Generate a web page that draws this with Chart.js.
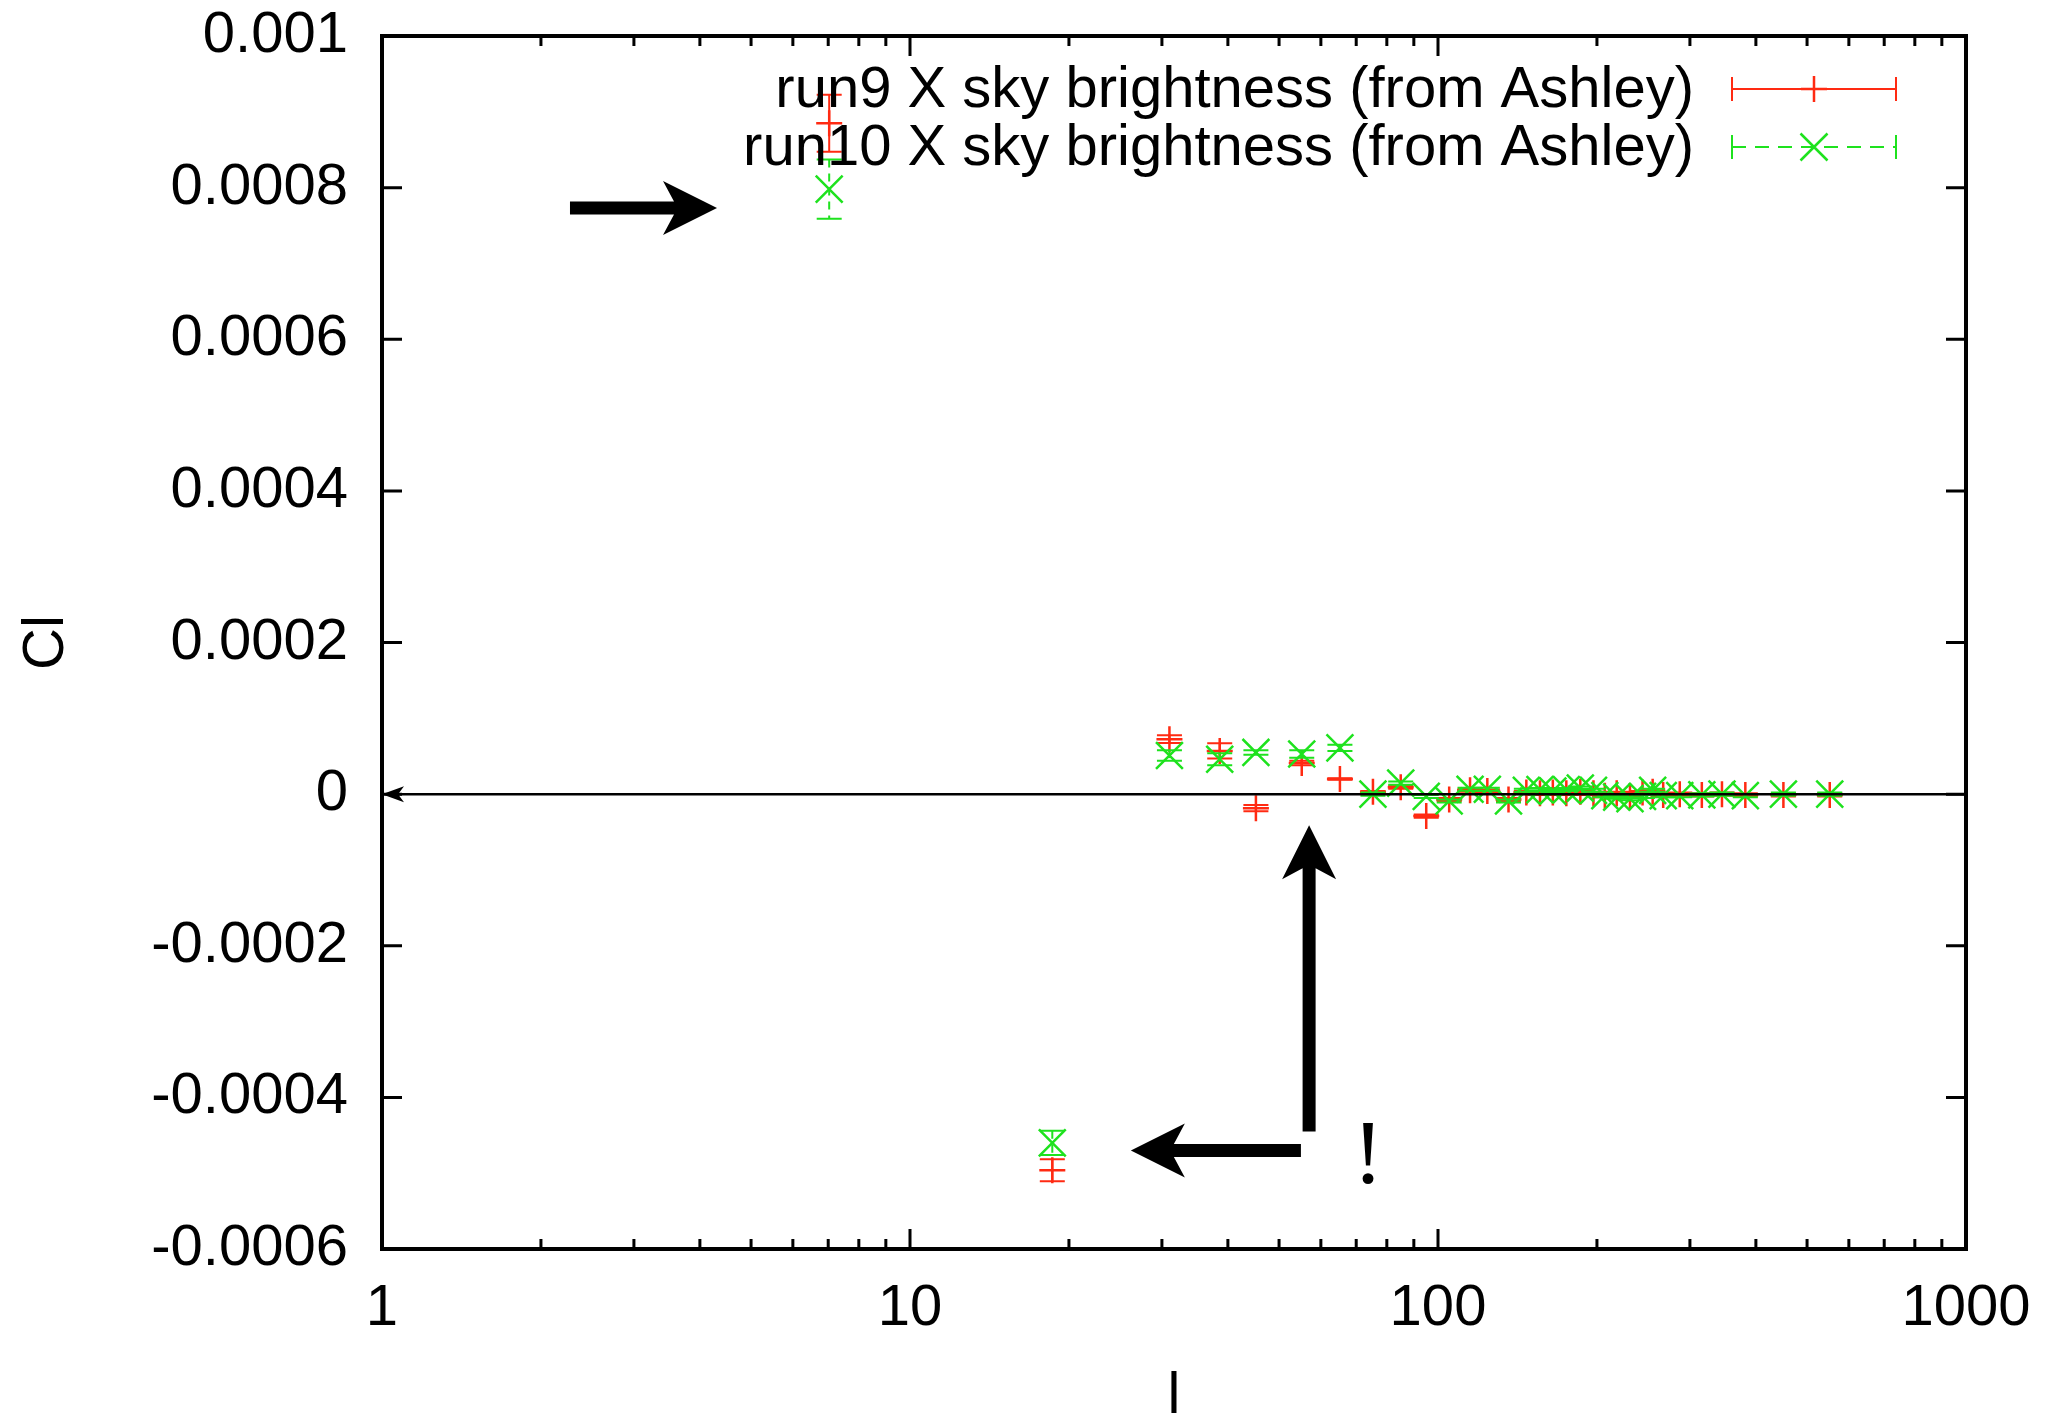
<!DOCTYPE html>
<html>
<head>
<meta charset="utf-8">
<title>Cl vs l</title>
<script src="https://cdn.jsdelivr.net/npm/chart.js@4.4.1/dist/chart.umd.min.js"></script>
<style>
  html, body { margin: 0; padding: 0; background: #fff; overflow: hidden; }
  #wrap { width: 2046px; height: 1413px; }
</style>
</head>
<body>
<div id="wrap"><canvas id="chart" width="2046" height="1413"></canvas></div>
<script>
// multipole bins (l) shared by both runs
const ell = [7.03, 18.6, 31, 38.6, 45.2, 55.2, 65.2, 75.3, 85, 95, 105, 115, 124, 136,
  147, 156, 165, 175, 186, 197, 207, 218, 231, 244, 255, 267, 287, 316, 345, 382, 451, 552];

const run9 = [8.85e-4, -4.96e-4, 7.25e-5, 5.7e-5, -1.85e-5, 4.1e-5, 2.0e-5, 0.3e-5, 0.9e-5, -2.9e-5,
  -0.7e-5, 0.5e-5, 0.4e-5, -0.7e-5, 0.2e-5, 0.1e-5, 0.2e-5, 0.1e-5, 0.3e-5, 0.1e-5,
  -0.2e-5, 0.1e-5, -0.3e-5, 0.2e-5, 0.3e-5, -0.1e-5, 0.0, -0.1e-5, 0.0, -0.1e-5, -0.1e-5, -0.1e-5];
const run9Err = [3.76e-5, 1.45e-5, 0.5e-5, 1.0e-5, 0.4e-5, 0.3e-5, 0.1e-5, 0.1e-5, 0.2e-5, 0.2e-5,
  0.2e-5, 0.2e-5, 0.2e-5, 0.2e-5, 0.2e-5, 0.2e-5, 0.2e-5, 0.2e-5, 0.2e-5, 0.2e-5,
  0.2e-5, 0.2e-5, 0.2e-5, 0.2e-5, 0.2e-5, 0.2e-5, 0.2e-5, 0.2e-5, 0.2e-5, 0.2e-5, 0.2e-5, 0.2e-5];

const run10 = [7.98e-4, -4.6e-4, 5.1e-5, 4.6e-5, 5.5e-5, 5.3e-5, 6.1e-5, 0.0, 1.45e-5, -0.3e-5,
  -0.9e-5, 0.65e-5, 0.65e-5, -0.9e-5, 0.5e-5, 0.6e-5, 0.4e-5, 0.6e-5, 0.8e-5, 0.5e-5,
  -0.2e-5, -0.4e-5, -0.6e-5, -0.3e-5, 0.5e-5, -0.2e-5, -0.2e-5, -0.1e-5, 0.0, -0.2e-5, 0.0, 0.0];
const run10Err = [3.9e-5, 1.6e-5, 0.7e-5, 0.8e-5, 0.3e-5, 0.5e-5, 0.4e-5, 0.2e-5, 0.2e-5, 0.2e-5,
  0.2e-5, 0.2e-5, 0.2e-5, 0.2e-5, 0.2e-5, 0.2e-5, 0.2e-5, 0.2e-5, 0.2e-5, 0.2e-5,
  0.2e-5, 0.2e-5, 0.2e-5, 0.2e-5, 0.2e-5, 0.2e-5, 0.2e-5, 0.2e-5, 0.2e-5, 0.2e-5, 0.2e-5, 0.2e-5];

const xTicks = [1, 10, 100, 1000];
const yTicks = [-0.0006, -0.0004, -0.0002, 0, 0.0002, 0.0004, 0.0006, 0.0008, 0.001];

// annotations, in data coordinates (like gnuplot "set arrow from ... to ...")
const arrows = [
  {from: [2.27, 7.73e-4], to: [4.31, 7.73e-4]},
  {from: [57.0, -4.45e-4], to: [57.0, -4.1e-5]},
  {from: [55.0, -4.7e-4], to: [26.2, -4.7e-4]}
];
const zeroLine = {from: [1000, 0], to: [1, 0]};
const bang = {text: '!', at: [73.7, -5.13e-4]};

const RED = '#ff2a12';
const GREEN = '#1ee21e';
const FONT = 'Liberation Sans, Arial, Helvetica, sans-serif';

function pts(ys, errs) {
  return ell.map((x, i) => ({x: x, y: ys[i], err: errs[i]}));
}

function arrowPath(ctx, x1, y1, x2, y2, w, headLen, headHalf, notch) {
  const ang = Math.atan2(y2 - y1, x2 - x1);
  const len = Math.hypot(x2 - x1, y2 - y1);
  ctx.save();
  ctx.translate(x2, y2);
  ctx.rotate(ang);
  ctx.beginPath();
  ctx.moveTo(0, 0);
  ctx.lineTo(-headLen, -headHalf);
  ctx.lineTo(-notch, -w / 2);
  ctx.lineTo(-len, -w / 2);
  ctx.lineTo(-len, w / 2);
  ctx.lineTo(-notch, w / 2);
  ctx.lineTo(-headLen, headHalf);
  ctx.closePath();
  ctx.fill();
  ctx.restore();
}

function marker(ctx, style, x, y, color) {
  ctx.save();
  ctx.strokeStyle = color;
  ctx.lineWidth = 2.5;
  ctx.beginPath();
  if (style === 'cross') {
    ctx.moveTo(x - 13, y); ctx.lineTo(x + 13, y);
    ctx.moveTo(x, y - 13); ctx.lineTo(x, y + 13);
  } else {
    ctx.moveTo(x - 13.5, y - 13.5); ctx.lineTo(x + 13.5, y + 13.5);
    ctx.moveTo(x - 13.5, y + 13.5); ctx.lineTo(x + 13.5, y - 13.5);
  }
  ctx.stroke();
  ctx.restore();
}

// error bars are drawn just before each dataset's markers
const errorBars = {
  id: 'errorBars',
  beforeDatasetDraw(chart, args) {
    const ds = chart.data.datasets[args.index];
    const meta = args.meta;
    const ys = chart.scales.y;
    const ctx = chart.ctx;
    ctx.save();
    ctx.strokeStyle = ds.borderColor;
    ctx.lineWidth = 2;
    meta.data.forEach((el, i) => {
      const d = ds.data[i];
      const top = ys.getPixelForValue(d.y + d.err);
      const bot = ys.getPixelForValue(d.y - d.err);
      ctx.setLineDash(ds.dashed ? [8, 6] : []);
      ctx.beginPath();
      ctx.moveTo(el.x, top); ctx.lineTo(el.x, bot);
      ctx.stroke();
      ctx.setLineDash([]);
      ctx.beginPath();
      ctx.moveTo(el.x - 12.5, top); ctx.lineTo(el.x + 12.5, top);
      ctx.moveTo(el.x - 12.5, bot); ctx.lineTo(el.x + 12.5, bot);
      ctx.stroke();
    });
    ctx.restore();
  }
};

// gnuplot style frame with inward ticks on all four sides
const frame = {
  id: 'frame',
  beforeDatasetsDraw(chart) {
    const {ctx, chartArea: a, scales: {x, y}} = chart;
    ctx.save();
    ctx.strokeStyle = '#000';
    ctx.lineWidth = 3;
    ctx.beginPath();
    y.ticks.forEach(t => {
      const py = y.getPixelForValue(t.value);
      ctx.moveTo(a.left, py); ctx.lineTo(a.left + 20, py);
      ctx.moveTo(a.right, py); ctx.lineTo(a.right - 20, py);
    });
    xTicks.forEach((dec, k) => {
      const px = x.getPixelForValue(dec);
      ctx.moveTo(px, a.bottom); ctx.lineTo(px, a.bottom - 20);
      ctx.moveTo(px, a.top); ctx.lineTo(px, a.top + 20);
      if (k < xTicks.length - 1) {
        for (let m = 2; m <= 9; m++) {
          const mx = x.getPixelForValue(dec * m);
          ctx.moveTo(mx, a.bottom); ctx.lineTo(mx, a.bottom - 10);
          ctx.moveTo(mx, a.top); ctx.lineTo(mx, a.top + 10);
        }
      }
    });
    ctx.stroke();
    ctx.lineWidth = 4;
    ctx.strokeRect(a.left, a.top, a.right - a.left, a.bottom - a.top);
    ctx.restore();
  },
  afterDatasetsDraw(chart) {
    const {ctx, scales: {x, y}} = chart;
    ctx.save();
    ctx.fillStyle = '#000';
    // zero line with small head at the left axis
    arrowPath(ctx,
      x.getPixelForValue(zeroLine.from[0]), y.getPixelForValue(zeroLine.from[1]),
      x.getPixelForValue(zeroLine.to[0]), y.getPixelForValue(zeroLine.to[1]),
      2.5, 22, 8, 17);
    arrows.forEach(ar => {
      arrowPath(ctx,
        x.getPixelForValue(ar.from[0]), y.getPixelForValue(ar.from[1]),
        x.getPixelForValue(ar.to[0]), y.getPixelForValue(ar.to[1]),
        13, 54, 27, 43);
    });
    ctx.font = '92px "Liberation Serif", "Times New Roman", serif';
    ctx.textAlign = 'center';
    ctx.textBaseline = 'alphabetic';
    ctx.fillText(bang.text, x.getPixelForValue(bang.at[0]), y.getPixelForValue(bang.at[1]));

    // key, top right
    const rows = [89, 147];
    ctx.font = '58px ' + FONT;
    ctx.textAlign = 'right';
    ctx.textBaseline = 'middle';
    chart.data.datasets.slice().sort((p, q) => p.keyRow - q.keyRow).forEach((ds, i) => {
      const ry = rows[i];
      ctx.fillStyle = '#000';
      ctx.fillText(ds.label, 1694, ry + 2);
      const x0 = 1732, x1 = 1896, xm = (x0 + x1) / 2;
      ctx.strokeStyle = ds.borderColor;
      ctx.lineWidth = 2;
      ctx.setLineDash(ds.dashed ? [14, 9] : []);
      ctx.beginPath();
      ctx.moveTo(x0, ry); ctx.lineTo(x1, ry);
      ctx.stroke();
      ctx.setLineDash([]);
      ctx.beginPath();
      ctx.moveTo(x0, ry - 12); ctx.lineTo(x0, ry + 12);
      ctx.moveTo(x1, ry - 12); ctx.lineTo(x1, ry + 12);
      ctx.stroke();
      marker(ctx, ds.pointStyle, xm, ry, ds.borderColor);
    });
    ctx.restore();
  }
};

new Chart(document.getElementById('chart'), {
  type: 'scatter',
  data: {
    datasets: [
      {
        label: 'run10 X sky brightness (from Ashley)',
        data: pts(run10, run10Err),
        borderColor: GREEN,
        backgroundColor: GREEN,
        pointStyle: 'crossRot',
        pointRadius: 19,
        pointBorderWidth: 2.5,
        dashed: true,
        keyRow: 2,
        order: 1
      },
      {
        label: 'run9 X sky brightness (from Ashley)',
        data: pts(run9, run9Err),
        borderColor: RED,
        backgroundColor: RED,
        pointStyle: 'cross',
        pointRadius: 13,
        pointBorderWidth: 2.5,
        dashed: false,
        keyRow: 1,
        order: 2
      }
    ]
  },
  options: {
    responsive: false,
    animation: false,
    events: [],
    layout: {padding: {left: 0, top: 36, right: 80, bottom: 0}},
    plugins: {legend: {display: false}, tooltip: {enabled: false}},
    scales: {
      x: {
        type: 'logarithmic',
        position: 'bottom',
        min: 1,
        max: 1000,
        grid: {display: false},
        border: {display: false},
        afterBuildTicks: s => { s.ticks = xTicks.map(v => ({value: v})); },
        afterFit: s => { s.height = 164; s.paddingLeft = 0; s.paddingRight = 0; },
        ticks: {
          autoSkip: false,
          maxRotation: 0,
          padding: 17,
          color: '#000',
          font: {family: FONT, size: 58},
          callback: v => String(v)
        },
        title: {
          display: true,
          text: 'l',
          color: '#000',
          padding: {top: 0, bottom: -13},
          font: {family: FONT, size: 58, lineHeight: 1}
        }
      },
      y: {
        type: 'linear',
        min: -0.0006,
        max: 0.001,
        grid: {display: false},
        border: {display: false},
        afterBuildTicks: s => { s.ticks = yTicks.map(v => ({value: v})); },
        afterFit: s => { s.width = 382; s.paddingTop = 0; s.paddingBottom = 0; },
        ticks: {
          padding: 26,
          color: '#000',
          font: {family: FONT, size: 58},
          callback: v => String(Number(v.toPrecision(6)))
        },
        title: {
          display: true,
          text: 'Cl',
          color: '#000',
          padding: {top: 18, bottom: 0},
          font: {family: FONT, size: 58, lineHeight: 1}
        }
      }
    }
  },
  plugins: [frame, errorBars]
});
</script>
</body>
</html>
